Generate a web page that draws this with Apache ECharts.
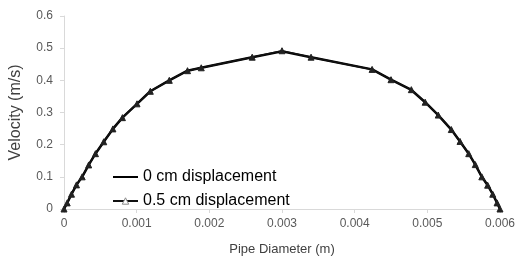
<!DOCTYPE html>
<html>
<head>
<meta charset="utf-8">
<script src="https://cdn.jsdelivr.net/npm/echarts@6/dist/echarts.min.js"></script>
<style>html,body{margin:0;padding:0;background:#fff}#c{width:518px;height:261px}</style>
</head>
<body>
<div id="c"></div>
<script>
var diameter = [0, 0.000044, 0.000103, 0.000172, 0.00025, 0.00034, 0.000433, 0.000547, 0.000673, 0.000804, 0.001005, 0.001188, 0.001449, 0.0017, 0.001889, 0.00259, 0.003, 0.0034, 0.00424, 0.0045, 0.00478, 0.00497, 0.00515, 0.00533, 0.00545, 0.00557, 0.00566, 0.00575, 0.00583, 0.0059, 0.00596, 0.006];
var vel0cm = [0, 0.019, 0.046, 0.075, 0.100, 0.137, 0.172, 0.209, 0.249, 0.284, 0.327, 0.366, 0.400, 0.430, 0.439, 0.472, 0.490, 0.472, 0.434, 0.402, 0.370, 0.332, 0.292, 0.247, 0.210, 0.172, 0.138, 0.100, 0.074, 0.046, 0.019, 0];
var vel05cm = [0, 0.019, 0.046, 0.075, 0.100, 0.137, 0.172, 0.209, 0.249, 0.284, 0.327, 0.366, 0.400, 0.430, 0.439, 0.472, 0.492, 0.472, 0.434, 0.402, 0.371, 0.332, 0.292, 0.247, 0.210, 0.172, 0.138, 0.100, 0.074, 0.046, 0.019, 0];
var xTickLabels = ['0', '0.001', '0.002', '0.003', '0.004', '0.005', '0.006'];
var yTickLabels = ['0', '0.1', '0.2', '0.3', '0.4', '0.5', '0.6'];
var seriesNames = ['0 cm displacement', '0.5 cm displacement'];

function pairs(xs, ys){ return xs.map(function(x,i){ return [x, ys[i]]; }); }

var chart = echarts.init(document.getElementById('c'), null, {renderer:'canvas'});
var font = 'Liberation Sans, Arial, sans-serif';
chart.setOption({
  animation: false,
  backgroundColor: '#fff',
  textStyle: {fontFamily: font},
  grid: {left: 63, right: 18, top: 16, bottom: 44, containLabel: false},
  legend: {
    orient: 'vertical', left: 107, top: 164, itemWidth: 25, itemHeight: 8, itemGap: 8,
    textStyle: {fontSize: 16, color: '#000', fontFamily: font},
    data: [
      {name: seriesNames[0], itemStyle: {color: 'rgba(0,0,0,0)', borderColor: 'rgba(0,0,0,0)', borderWidth: 0}},
      {name: seriesNames[1], itemStyle: {color: '#fff', borderColor: '#888', borderWidth: 1}}
    ]
  },
  xAxis: {
    type: 'value', min: 0, max: 0.006, interval: 0.001,
    name: 'Pipe Diameter (m)', nameLocation: 'middle', nameGap: 34,
    nameTextStyle: {fontSize: 13, color: '#404040', fontFamily: font},
    axisLine: {show: true, lineStyle: {color: '#d9d9d9', width: 1}},
    axisTick: {show: true, length: 4, lineStyle: {color: '#d9d9d9'}},
    axisLabel: {fontSize: 12, color: '#595959', margin: 9, fontFamily: font,
      formatter: function(v, i){ return xTickLabels[Math.round(v/0.001)]; }},
    splitLine: {show: false}
  },
  yAxis: {
    type: 'value', min: 0, max: 0.6, interval: 0.1,
    name: 'Velocity (m/s)', nameLocation: 'middle', nameGap: 40,
    nameTextStyle: {fontSize: 16, color: '#404040', fontFamily: font},
    axisLine: {show: true, lineStyle: {color: '#d9d9d9', width: 1}},
    axisTick: {show: true, length: 4, lineStyle: {color: '#d9d9d9'}},
    axisLabel: {fontSize: 12, color: '#595959', margin: 11, fontFamily: font,
      formatter: function(v){ return yTickLabels[Math.round(v/0.1)]; }},
    splitLine: {show: false}
  },
  series: [
    {
      name: seriesNames[0], type: 'line', data: pairs(diameter, vel0cm),
      symbol: 'none', lineStyle: {color: '#000', width: 2.5}, itemStyle: {color: '#000'}, z: 2
    },
    {
      name: seriesNames[1], type: 'line', data: pairs(diameter, vel05cm),
      symbol: 'triangle', symbolSize: 6, showAllSymbol: true,
      lineStyle: {color: '#111', width: 1.5}, itemStyle: {color: '#222', borderColor: '#222'}, z: 3
    }
  ]
});
</script>
</body>
</html>
